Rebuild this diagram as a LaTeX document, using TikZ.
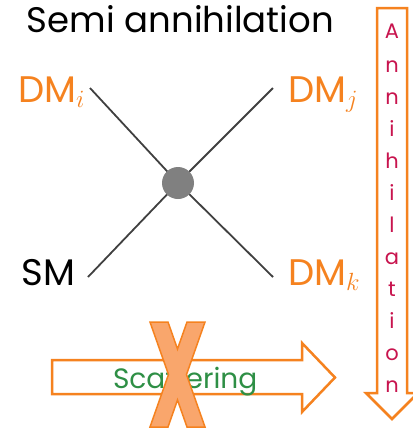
\documentclass[tikz,border=0pt]{standalone}
\usepackage{fontspec}
\setmainfont{Poppins}
\definecolor{dmorange}{HTML}{F5821F}
\definecolor{xfill}{HTML}{F9A66C}
\definecolor{annred}{HTML}{C8144E}
\definecolor{scatgreen}{HTML}{2E8F45}
\definecolor{linegray}{HTML}{404040}
\definecolor{blobgray}{HTML}{808080}
\tikzset{
  txt/.style={inner sep=0pt, outer sep=0pt},
  dmlabel/.style={txt, text=dmorange, font=\fontsize{37}{37}\selectfont},
  smlabel/.style={txt, text=black, font=\fontsize{37}{37}\selectfont},
  leg/.style={draw=linegray, line width=1.8pt},
  vertexblob/.style={circle, fill=blobgray, minimum size=32pt, inner sep=0pt},
  blockarrow/.style={draw=dmorange, fill=white, line width=2.5pt, line join=miter},
  annletter/.style={txt, text=annred, font=\fontsize{21}{21}\selectfont, anchor=base},
}
% italic particle index, set a little below the baseline
\newcommand{\subidx}[1]{\lower5pt\hbox{\fontsize{31}{31}\selectfont$#1$}}
\begin{document}
\begin{tikzpicture}[x=1pt, y=-1pt]
\useasboundingbox (0,0) rectangle (413,432);

% title
\node[txt, anchor=base west, font=\fontsize{35.5}{35.5}\selectfont] (title) at (27,32) {Semi annihilation};

% vertex and external legs
\coordinate (vc) at (178,183);
\coordinate (ei) at (90,88);
\coordinate (ej) at (273,88);
\coordinate (esm) at (88,277);
\coordinate (ek) at (273,277);
\draw[leg] (ei) -- (vc);
\draw[leg] (ej) -- (vc);
\draw[leg] (esm) -- (vc);
\draw[leg] (ek) -- (vc);
\node[vertexblob] (v) at (vc) {};

% particle labels
\node[dmlabel, anchor=base west] (dmi) at (18,102) {DM\subidx{i}};
\node[dmlabel, anchor=base west] (dmj) at (288,102) {DM\subidx{j}};
\node[smlabel, anchor=base west] (sm) at (22,285) {SM};
\node[dmlabel, anchor=base west] (dmk) at (288,285) {DM\subidx{k}};

% annihilation arrow (downward)
\draw[blockarrow] (377,8) -- (407,8) -- (407,393) -- (418,393) -- (392,419)
  -- (366,393) -- (377,393) -- cycle;
\node[annletter] (a0) at (392,38) {A};
\foreach \ch [count=\k from 0] in {n,n,i,h,i,l,a,t,i,o,n}
  \node[annletter] (a\k) at (392,72+32*\k) {\ch};

% scattering arrow (rightward)
\draw[blockarrow] (52,360) -- (302,360) -- (302,343) -- (335,377.5)
  -- (302,412) -- (302,394) -- (52,394) -- cycle;
\node[txt, anchor=base west, text=scatgreen, font=\fontsize{28}{28}\selectfont] (scat) at (113,388) {Scattering};

% cross over the scattering arrow
\draw[draw=dmorange, fill=xfill, line width=1.5pt, line join=miter]
  (150,322) -- (168,322) -- (177.5,349) -- (187,322) -- (205,322)
  -- (186.5,374.5) -- (205,427) -- (187,427) -- (177.5,400) -- (168,427)
  -- (150,427) -- (168.5,374.5) -- cycle;
\end{tikzpicture}
\end{document}
